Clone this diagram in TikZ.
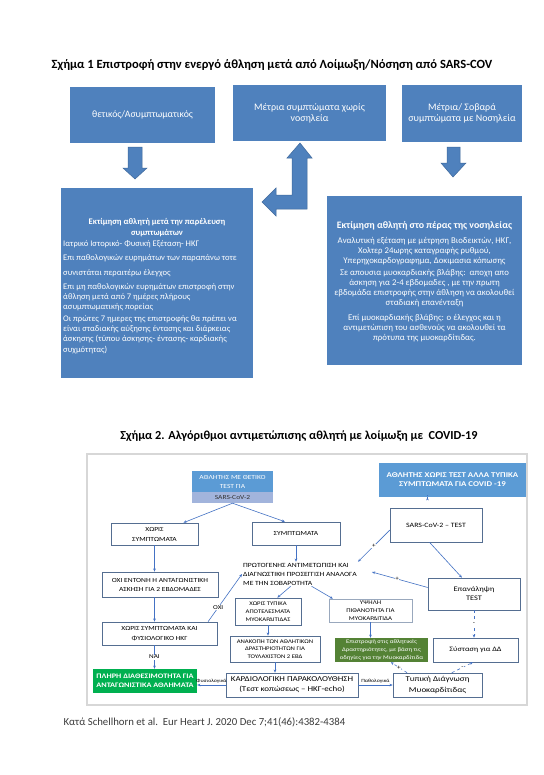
\documentclass[tikz,border=0pt]{standalone}
\usepackage{fontspec}
\setmainfont{Carlito}
\newfontfamily\ftwo[FakeStretch=1.2]{Carlito}
\usetikzlibrary{arrows.meta,calc}
\definecolor{bA}{RGB}{79,129,189}
\definecolor{bAd}{RGB}{62,104,155}
\definecolor{bB}{RGB}{91,155,213}
\definecolor{stripc}{RGB}{162,180,220}
\definecolor{bord}{RGB}{85,110,145}
\definecolor{conc}{RGB}{68,114,196}
\definecolor{grA}{RGB}{0,176,80}
\definecolor{grB}{RGB}{84,130,53}
\definecolor{frm}{RGB}{215,215,215}
\definecolor{foot}{RGB}{60,60,60}
\newcommand{\fz}[2]{\fontsize{#1}{#2}\selectfont}
\newcommand{\fq}[2]{\ftwo\fontsize{#1}{#2}\selectfont}
\tikzset{
  onebox/.style={fill=bA, text=white, inner sep=0pt, align=center},
  onearrow/.style={fill=bA, draw=bAd, line width=0.5bp},
  wtext/.style={text=white, inner sep=0pt, font=\fz{8.6}{10}},
  wtextr/.style={text=white, inner sep=0pt, font=\fz{8.8}{10}},
  fbox/.style={draw=bord, line width=0.6bp, fill=white, inner sep=0pt, align=center, font=\fq{6.3}{8.5}},
  conn/.style={draw=conc, line width=0.6bp, -{Stealth[length=3.2bp,width=2.6bp]}},
  lab/.style={font=\fq{6}{7}, inner sep=0.6bp, fill=white},
  slab/.style={font=\fq{4.8}{6}, inner sep=0.5bp}
}
\begin{document}
\begin{tikzpicture}[x=1bp,y=-1bp]
\useasboundingbox (0,0) rectangle (544,775);
\fill[white] (0,0) rectangle (544,775);

% ---------- Figure 1 ----------
\node[font=\bfseries\fz{12.6}{14}] (t1) at (272,65) {Σχήμα 1 Επιστροφή στην ενεργό άθληση μετά από Λοίμωξη/Νόσηση από SARS-COV};

\node[onebox, minimum width=145bp, minimum height=56bp, font=\fz{9.8}{12}] (pA) at (142.5,115) {θετικός/Ασυμπτωματικός};
\node[onebox, minimum width=153bp, minimum height=56bp, font=\fz{10}{11}] (pB) at (309.5,113) {Μέτρια συμπτώματα χωρίς\\νοσηλεία};
\node[onebox, minimum width=120bp, minimum height=57bp, font=\fz{10}{11}] (pC) at (462,113.5) {Μέτρια/ Σοβαρά\\συμπτώματα με Νοσηλεία};

\fill[onearrow] (128,147) -- (142,147) -- (142,168) -- (147,168) -- (135,179) -- (123,168) -- (128,168) -- cycle;
\fill[onearrow] (447,147) -- (460,147) -- (460,163) -- (466,163) -- (453,177) -- (441,163) -- (447,163) -- cycle;
\fill[onearrow] (300,143) -- (312,158) -- (307,158) -- (307,209) -- (276,209) -- (276,216) -- (262,202) -- (276,188) -- (276,195) -- (292,195) -- (292,158) -- (287,158) -- cycle;

\node[onebox, minimum width=192bp, minimum height=190bp] (pL) at (157,283) {};
\node[onebox, minimum width=195bp, minimum height=169bp] (pR) at (424.5,280.5) {};

\node[wtext, font=\bfseries\fz{8.6}{10}, anchor=base] (lh1) at (157,224.8) {Εκτίμηση αθλητή μετά την παρέλευση};
\node[wtext, font=\bfseries\fz{8.6}{10}, anchor=base] (lh2) at (157,235.8) {συμπτωμάτων};
\foreach \yy/\txt [count=\i] in {
  246.8/{Ιατρικό Ιστορικό- Φυσική Εξέταση- ΗΚΓ},
  260.8/{Επι παθολογικών ευρημάτων των παραπάνω τοτε},
  275.8/{συνιστάται περαιτέρω έλεγχος},
  289.8/{Επι μη παθολογικών ευρημάτων επιστροφή στην},
  299.3/{άθληση μετά από 7 ημέρες πλήρους},
  309.8/{ασυμπτωματικής πορείας},
  321.8/{Οι πρώτες 7 ημερες της επιστροφής θα πρέπει να},
  331.8/{είναι σταδιακής αύξησης έντασης και διάρκειας},
  341.8/{άσκησης (τύπου άσκησης- έντασης- καρδιακής},
  352.8/{συχμότητας)}}
  \node[wtext, anchor=base west] (lb\i) at (63,\yy) {\txt};

\node[wtext, font=\bfseries\fz{9.9}{11}, anchor=base] (rh) at (424.5,228.4) {Εκτίμηση αθλητή στο πέρας της νοσηλείας};
\foreach \yy/\txt [count=\i] in {
  243.9/{Αναλυτική εξέταση με μέτρηση Βιοδεικτών, ΗΚΓ,},
  253.9/{Χολτερ 24ωρης καταγραφής ρυθμού,},
  263.9/{Υπερηχοκαρδογραφημα, Δοκιμασια κόπωσης},
  275.9/{Σε απουσια μυοκαρδιακής βλάβης:\ \ αποχη απο},
  285.9/{άσκηση για 2-4 εβδομαδες , με την πρωτη},
  295.9/{εβδομάδα επιστροφής στην άθληση να ακολουθεί},
  305.9/{σταδιακή επανένταξη},
  320.9/{Επί μυοκαρδιακής βλάβης: ο έλεγχος και η},
  330.9/{αντιμετώπιση του ασθενούς να ακολουθεί τα},
  340.9/{πρότυπα της μυοκαρδίτιδας.}}
  \node[wtextr, anchor=base] (rb\i) at (424.5,\yy) {\txt};

% ---------- Figure 2 ----------
\node[font=\bfseries\fz{12.3}{14}] (t2) at (299,436) {Σχήμα 2. Αλγόριθμοι αντιμετώπισης αθλητή με λοίμωξη με\ \ COVID-19};
\draw[frm, line width=1.5bp] (87,454) rectangle (527,705);

\node[fill=bB, text=white, inner sep=0pt, align=center, font=\fq{6.3}{9}, minimum width=81bp, minimum height=21bp] (pos) at (232.5,481.5) {ΑΘΛΗΤΗΣ ΜΕ ΘΕΤΙΚΟ\\TEST ΓΙΑ};
\node[fill=stripc, text=black!80, inner sep=0pt, font=\fq{6.3}{8}, minimum width=81bp, minimum height=11bp] (posb) at (232.5,497.5) {SARS-CoV-2};
\node[fill=bB, text=white, inner sep=0pt, align=center, font=\bfseries\fq{7.4}{9}, minimum width=147bp, minimum height=34bp] (nt) at (452.5,480) {ΑΘΛΗΤΗΣ ΧΩΡΙΣ ΤΕΣΤ ΑΛΛΑ ΤΥΠΙΚΑ\\ΣΥΜΠΤΩΜΑΤΑ ΓΙΑ COVID -19};

\node[fbox, font=\fq{6.6}{9}, minimum width=92bp, minimum height=34bp] (sars) at (436,525) {SARS-CoV-2 – TEST};
\node[fbox, minimum width=87bp, minimum height=22bp, font=\fq{6.3}{10}] (nosym) at (154.5,534) {ΧΩΡΙΣ\\ΣΥΜΠΤΩΜΑΤΑ};
\node[fbox, minimum width=88bp, minimum height=23bp] (sym) at (296,533.5) {ΣΥΜΠΤΩΜΑΤΑ};
\node[fbox, minimum width=116bp, minimum height=25bp, font=\fq{6.3}{9}] (ochi) at (160,584.5) {ΟΧΙ ΕΝΤΟΝΗ Η ΑΝΤΑΓΩΝΙΣΤΙΚΗ\\ΑΣΚΗΣΗ ΓΙΑ 2 ΕΒΔΟΜΑΔΕΣ};
\node[fbox, minimum width=115bp, minimum height=23bp, font=\fq{6.3}{10}] (nosymekg) at (159.5,633.5) {ΧΩΡΙΣ ΣΥΜΠΤΩΜΑΤΑ ΚΑΙ\\ΦΥΣΙΟΛΟΓΙΚΟ ΗΚΓ};
\node[fill=grA, text=white, inner sep=0pt, align=center, font=\bfseries\fq{6.9}{9}, minimum width=104bp, minimum height=24bp] (full) at (145,681) {ΠΛΗΡΗ ΔΙΑΘΕΣΙΜΟΤΗΤΑ ΓΙΑ\\ΑΝΤΑΓΩΝΙΣΤΙΚΑ ΑΘΛΗΜΑΤΑ};

\node[inner sep=1pt, align=left, font=\fq{6.4}{9}] (prot) at (300,574) {ΠΡΩΤΟΓΕΝΗΣ ΑΝΤΙΜΕΤΩΠΙΣΗ ΚΑΙ\\ΔΙΑΓΝΩΣΤΙΚΗ ΠΡΟΣΕΓΓΙΣΗ ΑΝΑΛΟΓΑ\\ΜΕ ΤΗΝ ΣΟΒΑΡΟΤΗΤΑ};

\node[fbox, minimum width=66bp, minimum height=27bp, font=\fq{5.6}{8.3}] (notyp) at (268,611.5) {ΧΩΡΙΣ ΤΥΠΙΚΑ\\ΑΠΟΤΕΛΕΣΜΑΤΑ\\ΜΥΟΚΑΡΔΙΤΙΔΑΣ};
\node[fbox, draw=bord!60, minimum width=83bp, minimum height=23bp, font=\fq{5.8}{8}] (high) at (370.5,610.5) {ΥΨΗΛΗ\\ΠΙΘΑΝΟΤΗΤΑ ΓΙΑ\\ΜΥΟΚΑΡΔΙΤΙΔΑ};
\node[fbox, minimum width=90bp, minimum height=26bp, font=\fq{5.6}{7.6}] (stop) at (275,649) {ΑΝΑΚΟΠΗ ΤΩΝ ΑΘΛΗΤΙΚΩΝ\\ΔΡΑΣΤΗΡΙΟΤΗΤΩΝ ΓΙΑ\\ΤΟΥΛΑΧΙΣΤΟΝ 2 ΕΒΔ};
\node[fill=grB, text=white, inner sep=0pt, align=center, font=\fq{5.6}{7.6}, minimum width=93bp, minimum height=24bp] (ret) at (381.5,650) {Επιστροφή στις αθλητικές\\Δραστηριότητες, με βάση τις\\οδηγίες για την Μυοκαρδίτιδα};
\node[fbox, minimum width=92bp, minimum height=32bp, font=\fq{7}{9}] (rep) at (474,594) {Επανάληψη\\TEST};
\node[fbox, minimum width=85bp, minimum height=24bp, font=\fq{6.8}{9}] (dd) at (475.5,650) {Σύσταση για ΔΔ};
\node[fbox, minimum width=132bp, minimum height=24bp, font=\fq{7.5}{10}] (card) at (292,685) {ΚΑΡΔΙΟΛΟΓΙΚΗ ΠΑΡΑΚΟΛΟΥΘΗΣΗ\\(Τεστ κοπώσεως – ΗΚΓ-echo)};
\node[fbox, minimum width=89bp, minimum height=24bp, font=\fq{7.5}{11}] (typ) at (437.5,685) {Τυπική Διάγνωση\\Μυοκαρδίτιδας};

% connectors
\draw[conn] (posb.south) -- ($(nosym.north west)!0.83!(nosym.north east)$);
\draw[conn] (posb.south) -- ($(sym.north west)!0.375!(sym.north east)$);
\draw[conn] (nosym.south) -- (nosym.south |- ochi.north);
\draw[conn] (nosym.south |- ochi.south) -- (nosym.south |- nosymekg.north);
\draw[conn] (nosym.south |- nosymekg.south) -- (nosym.south |- full.north) node[midway, lab] (nai) {ΝΑΙ};
\draw[conn] ($(nosymekg.north west)!0.92!(nosymekg.north east)$) -- (prot.west) node[pos=0.3, lab] (oxi) {ΟΧΙ};
\draw[conn] (sym.south) -- (sym.south |- prot.north);
\draw[conn] ($(sars.south west)!0.35!(sars.north west)$) -- (prot.north east) node[midway, lab] (pl1) {+};
\draw[conn] ($(sars.south west)!0.43!(sars.south east)$) -- ($(rep.north west)!0.37!(rep.north east)$);
\draw[conn] ($(rep.north west)!0.3!(rep.south west)$) -- ($(prot.east)+(14,-2)$) node[pos=0.55, lab] (pl2) {+};
\draw[conn, dashed] (rep.south) -- (rep.south |- dd.north) node[midway, lab] (mi1) {-};
\draw[conn] ($(prot.south west)!0.42!(prot.south east)$) -- ($(notyp.north west)!0.64!(notyp.north east)$);
\draw[conn] ($(prot.south west)!0.6!(prot.south east)$) -- ($(high.north west)!0.05!(high.north east)$);
\draw[conn] (notyp.south) -- (notyp.south |- stop.north);
\draw[conn] (high.south) -- (high.south |- ret.north);
\draw[conn] (stop.south) -- (stop.south |- card.north);
\draw[conn] (card.west) -- (card.west -| full.east) node[midway, above=0.5bp, slab] (fys) {Φυσιολογικά};
\draw[conn] (card.east) -- (card.east -| typ.west) node[midway, above=0.5bp, slab] (path) {Παθολογικά};
\draw[conn, dashed] ($(typ.north west)!0.16!(typ.north east)$) -- ($(ret.south west)!0.6!(ret.south east)$) node[midway, lab] (pl3) {+};
\draw[conn, dashed] ($(typ.north west)!0.66!(typ.north east)$) -- ($(dd.south west)!0.47!(dd.south east)$) node[midway, lab] (mi2) {-};
\draw[conn, densely dotted] ($(nt.south west)!0.33!(nt.south east)$) -- ($(nt.south west)!0.33!(nt.south east)$ |- sars.north);

\node[anchor=west, text=foot, font=\fz{10.8}{12}] (ref) at (60,722) {Κατά Schellhorn et al.\ \ Eur Heart J. 2020 Dec 7;41(46):4382-4384};
\end{tikzpicture}
\end{document}
